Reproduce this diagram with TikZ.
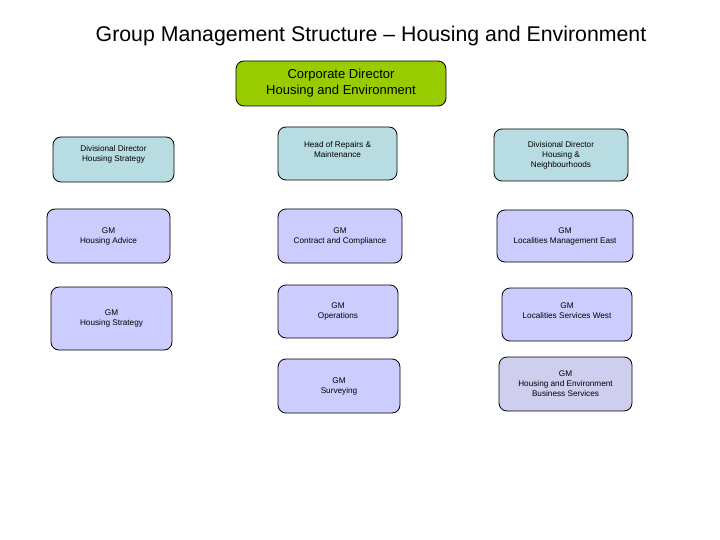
\documentclass[tikz,border=0pt]{standalone}
\usepackage{fontspec}
\setmainfont{Liberation Sans}
\definecolor{corpgreen}{RGB}{153,204,0}
\definecolor{dirblue}{RGB}{183,221,226}
\definecolor{gmlilac}{RGB}{204,204,255}
\definecolor{bslilac}{RGB}{206,206,238}
\begin{document}
\begin{tikzpicture}[x=1pt,y=-1pt,
    orgtext/.style={align=center,inner sep=1pt,font=\fontsize{8.2}{10}\selectfont},
    orgbox/.style={orgtext,draw=black,line width=0.8pt,rounded corners=8pt},
    dirbox/.style={orgbox,fill=dirblue},
    gmbox/.style={orgbox,fill=gmlilac}]
\useasboundingbox (0,0) rectangle (720,540);
\node (title) at (371,35.5) {\fontsize{21.3}{25}\selectfont Group Management Structure -- Housing and Environment};
\node[orgbox,fill=corpgreen,minimum width=210pt,minimum height=45pt,
      font=\fontsize{13}{16}\selectfont] (corp) at (341,83.5) {Corporate Director\\Housing and Environment};
% directors
\node[dirbox,minimum width=121pt,minimum height=45pt,
      label={[orgtext,yshift=5pt]center:Divisional Director\\Housing Strategy}] (divstrat) at (113.5,159.5) {};
\node[dirbox,minimum width=119pt,minimum height=53pt,
      label={[orgtext,yshift=4pt]center:Head of Repairs \&\\Maintenance}] (repairs) at (337.5,153.5) {};
\node[dirbox,minimum width=134pt,minimum height=52pt] (divneigh) at (561,155) {Divisional Director\\Housing \&\\Neighbourhoods};
% general managers
\node[gmbox,minimum width=123pt,minimum height=54pt] (advice) at (108.5,236) {GM\\Housing Advice};
\node[gmbox,minimum width=124pt,minimum height=54pt] (contract) at (340,236) {GM\\Contract and Compliance};
\node[gmbox,minimum width=136pt,minimum height=52pt] (east) at (565,236) {GM\\Localities Management East};
\node[gmbox,minimum width=121pt,minimum height=63pt] (gmstrat) at (111.5,318.5) {GM\\Housing Strategy};
\node[gmbox,minimum width=120pt,minimum height=53pt] (ops) at (338,311.5) {GM\\Operations};
\node[gmbox,minimum width=130pt,minimum height=53pt,
      label={[orgtext,yshift=4pt]center:GM\\Localities Services West}] (west) at (567,314.5) {};
\node[gmbox,minimum width=122pt,minimum height=54pt] (survey) at (339,386) {GM\\Surveying};
\node[orgbox,fill=bslilac,minimum width=133pt,minimum height=54pt] (business) at (565.5,384) {GM\\Housing and Environment\\Business Services};
\end{tikzpicture}
\end{document}
